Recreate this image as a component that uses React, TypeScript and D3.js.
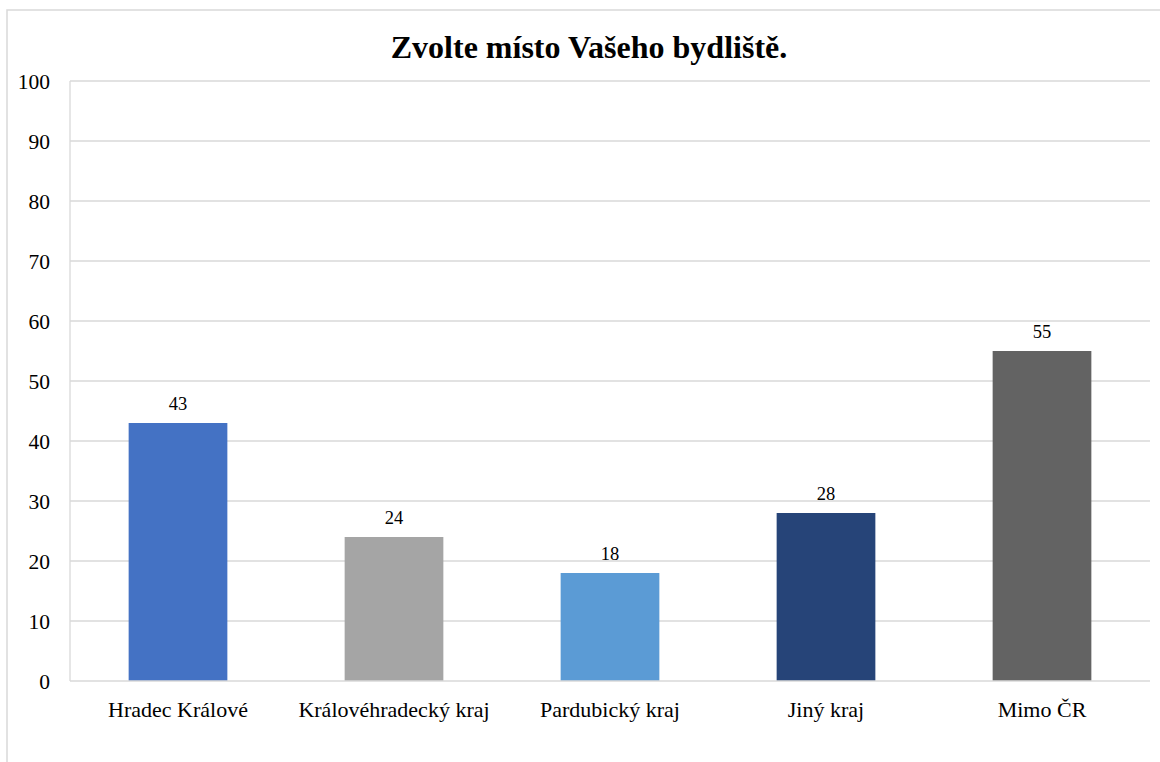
import React from "react";
import * as d3 from "d3";

const categories = ["Hradec Králové", "Královéhradecký kraj", "Pardubický kraj", "Jiný kraj", "Mimo ČR"];
const values = [43, 24, 18, 28, 55];
const colors = ["#4472C4", "#A5A5A5", "#5B9BD5", "#264478", "#636363"];
const yTicks = [0, 10, 20, 30, 40, 50, 60, 70, 80, 90, 100];
const title = "Zvolte místo Vašeho bydliště.";

export default function App() {
  const W = 1160, H = 762;
  const left = 70, right = 1150, top = 81, bottom = 681;
  const x = d3.scaleBand<string>().domain(categories).range([left, right]).paddingInner(0.543).paddingOuter(0.2715);
  const y = d3.scaleLinear().domain([0, 100]).range([bottom, top]);
  const font = "'Liberation Serif', 'Times New Roman', serif";
  return (
    <svg width={W} height={H} style={{ position: "absolute", left: 0, top: 0, background: "#fff" }} fontFamily={font}>
      <rect x={7} y={10} width={W + 10} height={H + 10} fill="#fff" stroke="#d9d9d9" strokeWidth={1.5} />
      <text x={589} y={58} textAnchor="middle" fontSize={32} fontWeight="bold" fill="#000">{title}</text>
      {yTicks.map((t) => (
        <g key={t}>
          {t > 0 && <line x1={left} x2={right} y1={y(t)} y2={y(t)} stroke="#d9d9d9" strokeWidth={1.3} />}
          <text x={50} y={y(t) + 8} textAnchor="end" fontSize={21.5} fill="#000">{t}</text>
        </g>
      ))}
      <line x1={left} x2={left} y1={top} y2={bottom} stroke="#d9d9d9" strokeWidth={1.3} />
      {categories.map((c, i) => (
        <g key={c}>
          <rect x={x(c)} y={y(values[i])} width={x.bandwidth()} height={bottom - y(values[i])} fill={colors[i]} />
          <text x={(x(c) as number) + x.bandwidth() / 2} y={y(values[i]) - 13} textAnchor="middle" fontSize={18.5} fill="#000">{values[i]}</text>
          <text x={(x(c) as number) + x.bandwidth() / 2} y={717} textAnchor="middle" fontSize={22} fill="#000">{c}</text>
        </g>
      ))}
      <line x1={left} x2={right} y1={bottom} y2={bottom} stroke="#d9d9d9" strokeWidth={1.3} />
    </svg>
  );
}
